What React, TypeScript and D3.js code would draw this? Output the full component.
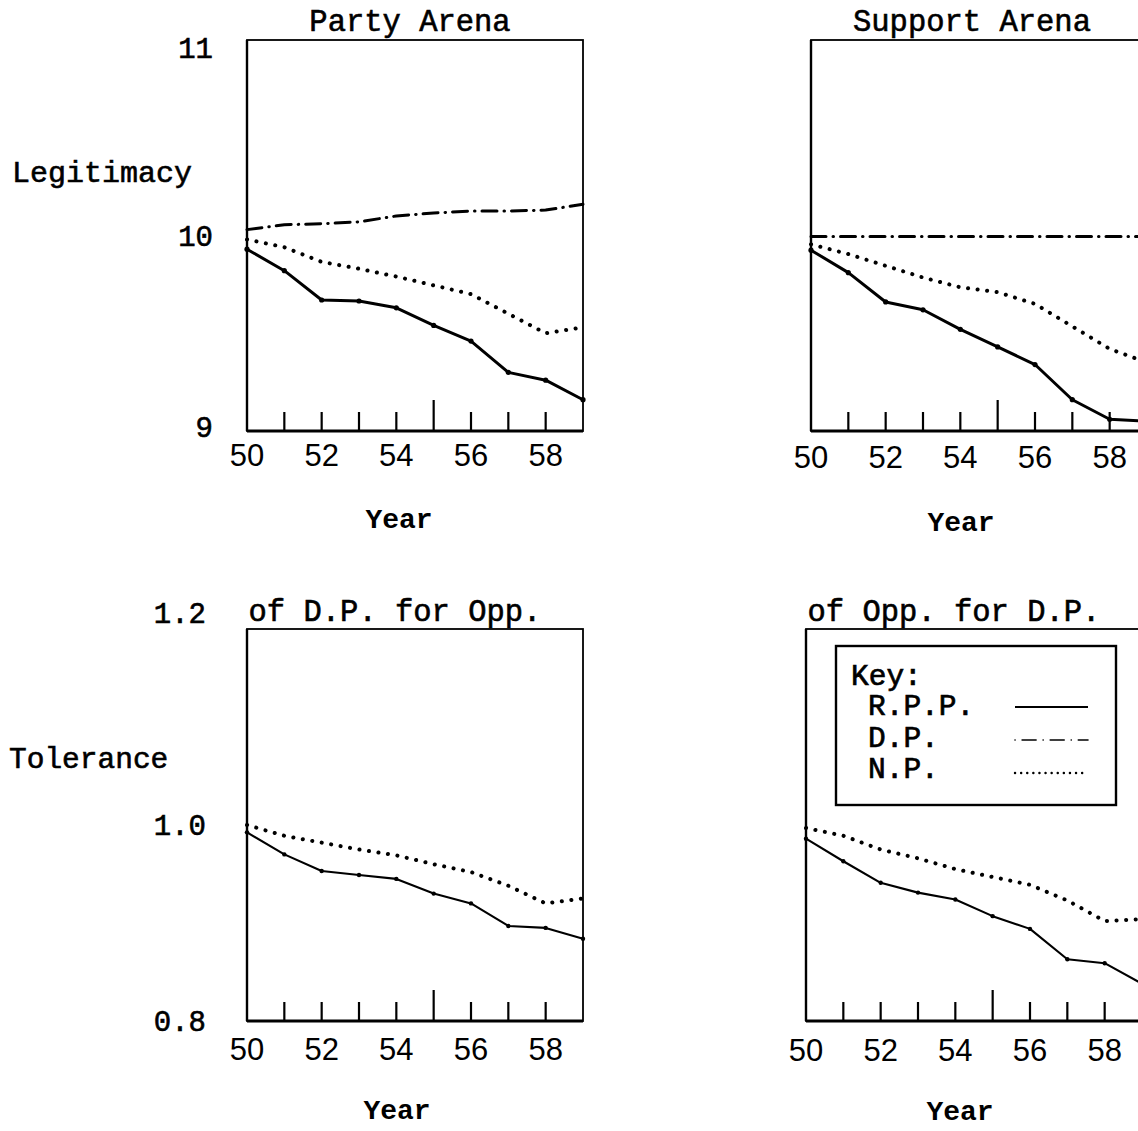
import React from "react";
import * as d3 from "d3";

// ---- data ----
const years = [50, 51, 52, 53, 54, 55, 56, 57, 58, 59];
const xTickLabels = [50, 52, 54, 56, 58];

const partyRPP = [9.93, 9.82, 9.67, 9.665, 9.63, 9.54, 9.46, 9.30, 9.26, 9.16];
const partyDP = [10.03, 10.055, 10.06, 10.07, 10.10, 10.115, 10.125, 10.125, 10.13, 10.16];
const partyNP = [9.98, 9.94, 9.865, 9.83, 9.79, 9.745, 9.70, 9.60, 9.50, 9.53];

const supportRPP = [9.925, 9.81, 9.66, 9.62, 9.52, 9.43, 9.34, 9.16, 9.06, 9.05];
const supportDP = [9.995, 9.995, 9.995, 9.995, 9.995, 9.995, 9.995, 9.995, 9.995, 9.995];
const supportNP = [9.955, 9.905, 9.845, 9.785, 9.735, 9.71, 9.65, 9.535, 9.42, 9.35];

const tolDpRPP = [0.9925, 0.970, 0.953, 0.949, 0.945, 0.930, 0.920, 0.897, 0.895, 0.884];
const tolDpNP = [1.0, 0.989, 0.982, 0.975, 0.969, 0.960, 0.952, 0.938, 0.920, 0.925];

const tolOppRPP = [0.986, 0.963, 0.941, 0.931, 0.924, 0.907, 0.894, 0.863, 0.859, 0.838];
const tolOppNP = [0.997, 0.989, 0.975, 0.966, 0.955, 0.947, 0.939, 0.923, 0.902, 0.904];

const legitTicks = ["11", "10", "9"];
const legitTickValues = [11, 10, 9];
const tolTicks = ["1.2", "1.0", "0.8"];
const tolTickValues = [1.2, 1.0, 0.8];

const legendLabels = ["R.P.P.", "D.P.", "N.P."];

// ---- styling ----
const MONO = "'Liberation Mono', 'DejaVu Sans Mono', monospace";
const HAND = "'Liberation Sans', 'DejaVu Sans', sans-serif";

const styles: Record<string, any> = {
  rpp: { stroke: "#000", strokeWidth: 3, dash: undefined, cap: "round" },
  dp: { stroke: "#000", strokeWidth: 3, dash: "15,7,0.5,7", cap: "round" },
  np: { stroke: "#000", strokeWidth: 4, dash: "0.1,9.5", cap: "round" },
};

type Series = { values: number[]; style: string };
type Panel = {
  left: number;
  top: number;
  bottom: number;
  width: number;
  domain: [number, number];
  title: string;
  titleX: number;
  titleY: number;
  series: Series[];
  yLabels?: { text: string; value: number; dy: number }[];
  yLabelRight?: number;
  tickLabelBaseline: number;
  yearBaseline: number;
  yearX: number;
  thin?: boolean;
};

const panels: Panel[] = [
  {
    left: 247, top: 40, bottom: 431, width: 336, domain: [9, 11],
    title: "Party Arena", titleX: 410, titleY: 31,
    series: [
      { values: partyDP, style: "dp" },
      { values: partyNP, style: "np" },
      { values: partyRPP, style: "rpp" },
    ],
    yLabels: legitTicks.map((t, i) => ({ text: t, value: legitTickValues[i], dy: [18, 10, 6][i] })),
    yLabelRight: 213,
    tickLabelBaseline: 466, yearBaseline: 528, yearX: 399,
  },
  {
    left: 811, top: 40, bottom: 431, width: 336, domain: [9, 11],
    title: "Support Arena", titleX: 972, titleY: 31,
    series: [
      { values: supportDP, style: "dp" },
      { values: supportNP, style: "np" },
      { values: supportRPP, style: "rpp" },
    ],
    tickLabelBaseline: 468, yearBaseline: 531, yearX: 961,
  },
  {
    left: 247, top: 629, bottom: 1021, width: 336, domain: [0.8, 1.2],
    title: "of D.P. for Opp.", titleX: 395, titleY: 621,
    series: [
      { values: tolDpNP, style: "np" },
      { values: tolDpRPP, style: "rpp" },
    ],
    yLabels: tolTicks.map((t, i) => ({ text: t, value: tolTickValues[i], dy: [-6, 10, 10][i] })),
    yLabelRight: 206,
    tickLabelBaseline: 1060, yearBaseline: 1119, yearX: 397,
    thin: true,
  },
  {
    left: 806, top: 629, bottom: 1021, width: 336, domain: [0.8, 1.2],
    title: "of Opp. for D.P.", titleX: 954, titleY: 621,
    series: [
      { values: tolOppNP, style: "np" },
      { values: tolOppRPP, style: "rpp" },
    ],
    tickLabelBaseline: 1061, yearBaseline: 1120, yearX: 960,
    thin: true,
  },
];

function PanelView({ p }: { p: Panel }) {
  const x = d3.scaleLinear().domain([years[0], years[years.length - 1]]).range([p.left, p.left + p.width]);
  const y = d3.scaleLinear().domain(p.domain).range([p.bottom, p.top]);
  const line = d3
    .line<number>()
    .x((_, i) => x(years[i]))
    .y((v) => y(v));

  return (
    <g>
      {/* frame */}
      <rect x={p.left} y={p.top} width={p.width} height={p.bottom - p.top} fill="none" stroke="#000" strokeWidth={1.8} />
      <line x1={p.left} x2={p.left + p.width} y1={p.bottom} y2={p.bottom} stroke="#000" strokeWidth={2.8} />
      <line x1={p.left} x2={p.left} y1={p.top} y2={p.bottom} stroke="#000" strokeWidth={2.4} />
      {/* ticks */}
      {years.slice(1, years.length - 1).map((yr) => (
        <line key={yr} x1={x(yr)} x2={x(yr)} y1={p.bottom} y2={p.bottom - (yr === 55 ? 31 : 19)} stroke="#000" strokeWidth={2.2} />
      ))}
      {xTickLabels.map((t) => (
        <text key={t} x={x(t)} y={p.tickLabelBaseline} textAnchor="middle" fontFamily={HAND} fontSize={31} fill="#000">
          {t}
        </text>
      ))}
      {/* series */}
      {p.series.map((s, i) => {
        const st = styles[s.style];
        return (
          <g key={i}>
            <path
              d={line(s.values) || ""}
              fill="none"
              stroke={st.stroke}
              strokeWidth={s.style === "rpp" && p.thin ? 2.1 : st.strokeWidth}
              strokeDasharray={st.dash}
              strokeLinecap={st.cap}
              strokeLinejoin="round"
            />
            {s.style === "rpp" &&
              s.values.map((v, j) => <circle key={j} cx={x(years[j])} cy={y(v)} r={p.thin ? 2.2 : 2.6} fill="#000" />)}
          </g>
        );
      })}
      {/* title */}
      <text x={p.titleX} y={p.titleY} textAnchor="middle" fontFamily={MONO} fontSize={30.5} fill="#000" stroke="#000" strokeWidth={0.6}>
        {p.title}
      </text>
      {/* y labels */}
      {p.yLabels &&
        p.yLabels.map((l) => (
          <text key={l.text} x={p.yLabelRight} y={y(l.value) + l.dy} textAnchor="end" fontFamily={MONO} fontSize={29} fill="#000" stroke="#000" strokeWidth={0.6}>
            {l.text}
          </text>
        ))}
      {/* x title */}
      <text x={p.yearX} y={p.yearBaseline} textAnchor="middle" fontFamily={MONO} fontSize={28} fontWeight="bold" fill="#000">
        Year
      </text>
    </g>
  );
}

function Legend() {
  const lx = 836, ly = 646, lw = 280, lh = 159;
  const rows = [
    { label: legendLabels[0], style: "rpp", baseline: 715, lineY: 707 },
    { label: legendLabels[1], style: "dp", baseline: 747, lineY: 740 },
    { label: legendLabels[2], style: "np", baseline: 778, lineY: 773 },
  ];
  return (
    <g>
      <rect x={lx} y={ly} width={lw} height={lh} fill="#fff" stroke="#000" strokeWidth={2.4} />
      <text x={851} y={685} fontFamily={MONO} fontSize={29.5} fill="#000" stroke="#000" strokeWidth={0.7}>
        Key:
      </text>
      {rows.map((r) => {
        return (
          <g key={r.label}>
            <text x={868} y={r.baseline} fontFamily={MONO} fontSize={29.5} fill="#000" stroke="#000" strokeWidth={0.7}>
              {r.label}
            </text>
            <line
              x1={1015}
              x2={1088}
              y1={r.lineY}
              y2={r.lineY}
              stroke="#000"
              strokeWidth={r.style === "np" ? 2.4 : r.style === "dp" ? 1.6 : 2.2}
              strokeDasharray={r.style === "dp" ? "0.1,7,14,7" : r.style === "np" ? "0.1,6" : undefined}
              strokeLinecap={r.style === "rpp" ? "butt" : "round"}
            />
          </g>
        );
      })}
    </g>
  );
}

export default function App() {
  return (
    <svg
      width={1138}
      height={1131}
      viewBox="0 0 1138 1131"
      style={{ position: "absolute", left: 0, top: 0, background: "#fff" }}
    >
      <rect x={0} y={0} width={1138} height={1131} fill="#fff" />
      {panels.map((p, i) => (
        <PanelView key={i} p={p} />
      ))}
      <Legend />
      <text x={12} y={182} fontFamily={MONO} fontSize={30} fill="#000" stroke="#000" strokeWidth={0.6}>
        Legitimacy
      </text>
      <text x={9} y={768} fontFamily={MONO} fontSize={29.5} fill="#000" stroke="#000" strokeWidth={0.6}>
        Tolerance
      </text>
    </svg>
  );
}
